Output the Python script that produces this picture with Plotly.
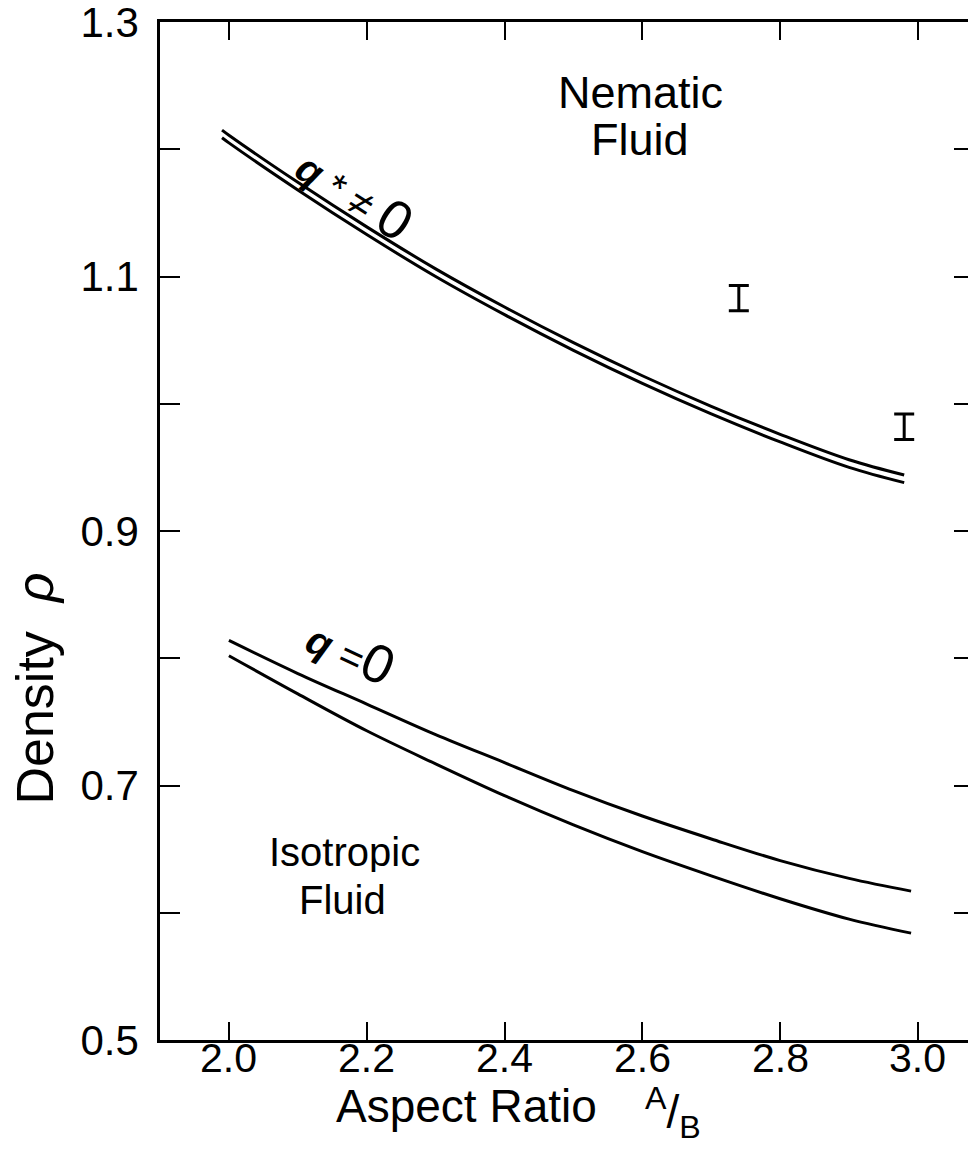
import plotly.graph_objects as go

# --- data ---
aspect_ratio = [1.99, 2.0, 2.1, 2.2, 2.3, 2.4, 2.5, 2.6, 2.7, 2.8, 2.9, 2.98]
rho_qstar_upper = [1.215, 1.211, 1.174, 1.139, 1.106, 1.076, 1.048, 1.022, 0.998, 0.976, 0.956, 0.944]
rho_qstar_lower = [1.209, 1.205, 1.168, 1.133, 1.100, 1.070, 1.042, 1.016, 0.992, 0.970, 0.950, 0.938]

aspect_ratio_q0 = [2.0, 2.1, 2.2, 2.3, 2.4, 2.5, 2.6, 2.7, 2.8, 2.9, 2.99]
rho_q0_upper = [0.814, 0.788, 0.764, 0.740, 0.718, 0.696, 0.676, 0.658, 0.641, 0.627, 0.617]
rho_q0_lower = [0.802, 0.772, 0.743, 0.717, 0.692, 0.669, 0.648, 0.629, 0.611, 0.595, 0.584]

sim_ratio = [2.74, 2.98]
sim_rho = [1.083, 0.982]
sim_err = [0.010, 0.010]

x_ticks = [2.0, 2.2, 2.4, 2.6, 2.8, 3.0]
x_ticktext = ["2.0", "2.2", "2.4", "2.6", "2.8", "3.0"]
y_ticks = [0.5, 0.6, 0.7, 0.8, 0.9, 1.0, 1.1, 1.2, 1.3]
y_ticktext = ["0.5", "", "0.7", "", "0.9", "", "1.1", "", "1.3"]
y_right_ticks = [0.6, 0.7, 0.8, 0.9, 1.0, 1.1, 1.2]

FONT = "Liberation Sans"
line_style = dict(color="black", width=3)

fig = go.Figure()
for ys in (rho_qstar_upper, rho_qstar_lower):
    fig.add_trace(go.Scatter(x=aspect_ratio, y=ys, mode="lines", line=line_style,
                             line_shape="spline", showlegend=False, hoverinfo="skip"))
for ys in (rho_q0_upper, rho_q0_lower):
    fig.add_trace(go.Scatter(x=aspect_ratio_q0, y=ys, mode="lines", line=line_style,
                             line_shape="spline", showlegend=False, hoverinfo="skip"))

fig.add_trace(go.Scatter(
    x=sim_ratio, y=sim_rho, mode="markers",
    marker=dict(size=1, color="rgba(0,0,0,0)"),
    error_y=dict(type="data", array=sim_err, visible=True, color="black",
                 thickness=3, width=10),
    showlegend=False, hoverinfo="skip"))

# invisible trace on the right-hand axis so its ticks render
fig.add_trace(go.Scatter(x=[2.0], y=[0.6], yaxis="y2", mode="markers",
                         marker=dict(size=1, color="rgba(0,0,0,0)"),
                         showlegend=False, hoverinfo="skip"))

fig.update_layout(
    width=968, height=1173,
    margin=dict(l=160, r=0, t=22, b=133),
    paper_bgcolor="white", plot_bgcolor="white",
    font=dict(family=FONT, color="black"),
    xaxis=dict(range=[1.9, 3.0726], tickvals=x_ticks, showticklabels=False,
               ticks="inside", ticklen=18, tickwidth=2, tickcolor="black",
               showline=True, linecolor="black", linewidth=2.5, mirror="ticks",
               showgrid=False, zeroline=False),
    yaxis=dict(range=[0.5, 1.3], tickvals=y_ticks, ticktext=y_ticktext,
               ticks="inside", ticklen=20, tickwidth=2, tickcolor="black",
               showline=True, linecolor="black", linewidth=2.5,
               showgrid=False, zeroline=False, ticklabeloverflow="allow",
               tickfont=dict(size=42, family=FONT), ticklabelstandoff=10),
    yaxis2=dict(range=[0.5, 1.3], overlaying="y", side="right",
                tickvals=y_right_ticks, showticklabels=False,
                ticks="inside", ticklen=14, tickwidth=2, tickcolor="black",
                showline=False, showgrid=False, zeroline=False),
)


def label(text, x, y, size, xref="x", yref="y", angle=0, height=None):
    kw = {} if height is None else dict(height=height)
    fig.add_annotation(
        x=x, y=y, xref=xref, yref=yref,
        text=text, showarrow=False, textangle=angle,
        xanchor="center", yanchor="middle",
        font=dict(family=FONT, size=size, color="black"), **kw)


# x tick labels placed just under the axis line
for xv, txt in zip(x_ticks, x_ticktext):
    label(txt, xv, -0.018, 41, xref="x", yref="paper")

label("Nematic", 2.597, 1.245, 45, height=40)
label("Fluid", 2.597, 1.208, 45, height=40)
label("Isotropic", 2.168, 0.648, 40, height=40)
label("Fluid", 2.165, 0.610, 40, height=40)
label("<b><i>q</i></b> * ≠ <span style='font-size:54px'>0</span>", 2.183, 1.166, 40, angle=33)
label("<b><i>q</i></b> =<span style='font-size:54px'>0</span>", 2.178, 0.806, 40, angle=25)
label("Aspect Ratio", 0.379, -0.065, 46, xref="paper", yref="paper")
label("<sup>A</sup>/<sub>B</sub>", 0.635, -0.071, 46, xref="paper", yref="paper")
label("Density  <i>ρ</i>", -0.155, 0.345, 52, xref="paper", yref="paper", angle=-90)

fig.write_html("out.html")
